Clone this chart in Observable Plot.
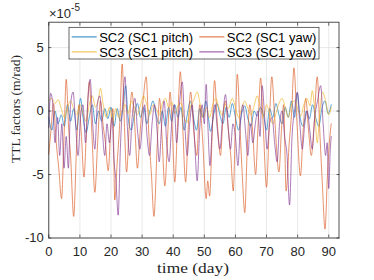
<!DOCTYPE html>
<html>
<head>
<meta charset="utf-8">
<script src="https://cdn.jsdelivr.net/npm/d3@7"></script>
<script src="https://cdn.jsdelivr.net/npm/@observablehq/plot@0.6"></script>
<style>
  html, body { margin: 0; padding: 0; background: #fff; }
  #chart { width: 374px; height: 280px; }
</style>
</head>
<body>
<div id="chart"></div>
<script>
// values in units of 1e-5 m/rad, [day, value]
const sc2Pitch = [[0,-0.5],[1.0,-1.5],[2.0,0],[3.0,-1],[4.0,-0.3],[5.0,-1.2],[6.0,0.5],[7.0,-0.8],[8.0,0.2],[9.0,-1.5],[10.2,1.0],[11.0,-0.5],[12.0,-1.7],[13.0,-0.5],[14.0,0.5],[15.0,-1],[16.0,0],[17.0,-0.8],[18.0,0.2],[19.0,-0.6],[20.0,0.3],[21.0,-1.2],[22.0,0.2],[23.0,-0.8],[24.0,0.5],[24.7,2.0],[25.5,-0.5],[26.5,-1.5],[27.5,-0.3],[28.5,0.6],[29.5,-0.5],[30.5,0.3],[31.5,-1],[32.5,0],[33.5,0.8],[34.5,-0.3],[35.5,-1.0],[36.5,0],[37.5,-1.2],[38.5,0.3],[39.5,-0.8],[40.5,0.5],[41.5,-0.5],[42.5,0.3],[43.5,-1.5],[44.5,-0.3],[45.5,0.8],[46.5,-0.5],[47.5,-1.5],[48.5,0.2],[49.5,-0.5],[50.5,0.8],[51.3,-0.5],[52.0,-1.6],[53.0,-0.3],[54.0,0.6],[55.0,-0.3],[56.0,-1],[57.0,0.3],[58.0,-0.5],[59.0,0.6],[60.0,-0.5],[61.0,-1.5],[62.0,-0.2],[63.0,0.4],[64.0,-0.6],[65.0,-1.2],[66.0,0],[67.0,-0.4],[68.0,0.3],[69.0,-0.3],[70.0,-1.5],[71.0,0.2],[72.0,-0.5],[73.0,0.6],[74.0,-0.3],[75.0,-1.0],[76.0,0.3],[77.0,-0.5],[78.0,0.8],[79.0,-0.5],[79.9,1.4],[80.8,-0.5],[81.8,-1.2],[82.8,0],[83.8,-0.6],[84.8,0.5],[85.8,-0.5],[86.8,-1.2],[87.8,0.2],[88.8,0.8],[89.8,-0.2],[90.8,0.5]];

const sc2Yaw = [[0,-3.4],[0.7,-1.5],[1.5,0.6],[2.4,-2.5],[3.2,-4.5],[4.1,-6.9],[4.9,-2],[5.6,2.5],[6.4,-1.5],[7.0,-3.5],[8.0,-8.3],[8.9,-3],[9.7,0.5],[10.5,-2],[11.3,-5.2],[12.2,-1],[13.0,2.3],[13.9,-2],[14.8,-6.4],[15.7,-2.5],[16.6,0.8],[17.5,-1.2],[18.2,-2.5],[19.1,-4.7],[20.0,-1],[20.6,0.2],[21.2,-7.0],[22.0,-4],[22.8,-1],[23.6,3.7],[24.3,-1],[25.0,-4.8],[25.9,-1],[26.7,1.5],[27.6,-1],[28.5,-4.5],[29.4,-1.5],[30.2,0.5],[31.3,2.7],[32.2,-2],[33.0,-5],[33.8,-8.3],[34.8,-3],[35.6,1.0],[36.4,-2],[37.3,-5.9],[38.2,-2],[39.0,1.5],[39.8,-2],[40.5,-5.6],[41.4,-1],[42.3,3.1],[43.1,-1.5],[44.0,-5.6],[44.8,-1.5],[45.6,1.5],[46.6,-1.5],[47.6,-3.5],[48.5,0.5],[49.4,-2],[50.6,-6.9],[51.1,-5.5],[51.7,-6.7],[52.5,-2],[53.3,2.4],[54.2,-1],[55.2,-3.5],[56.0,-0.5],[56.8,0.8],[57.7,-1.5],[58.5,-3.5],[59.3,-6.3],[60.0,-1],[60.6,2.9],[61.5,-1.5],[62.2,-5],[63.0,-8.0],[63.8,-3],[64.6,0.5],[65.5,-1.5],[66.5,-5.0],[67.3,-1],[68.1,2.6],[69.0,-1.5],[70.0,-6.0],[70.9,-1],[71.7,2.7],[72.6,-0.5],[74.0,-4.8],[74.8,-1.5],[75.5,0.5],[76.3,-6.3],[77.3,-2.5],[78.1,0],[78.8,3.4],[79.8,-1],[80.9,-5.1],[81.8,-1.5],[82.6,1.0],[83.5,-1.5],[84.4,-3.5],[85.3,-1],[86.3,2.7],[87.2,-2],[88.0,-6],[88.8,-9.3],[89.6,-5],[90.2,-2.5],[90.8,-1.0]];

const sc3Pitch = [[0,0.8],[1.0,1.0],[2.0,0.6],[3.0,0.9],[4.0,0.2],[5.0,-0.5],[6.0,0.3],[7.0,0.8],[8.0,0.2],[9.0,-0.3],[10.0,0.5],[11.0,-0.2],[12.0,-0.8],[13.0,0.5],[14.0,1.2],[15.0,0.3],[16.0,1.0],[16.6,1.8],[17.5,0.5],[18.5,-0.5],[19.5,0.3],[20.5,-0.8],[21.5,0.2],[22.5,-0.5],[23.5,0],[24.5,0.5],[25.5,-0.2],[26.5,0.8],[27.5,0.3],[28.5,-0.3],[29.5,0.5],[30.5,1.2],[31.5,0.5],[32.5,-0.3],[33.5,0.5],[34.5,0.2],[35.5,-0.3],[36.5,0.6],[37.5,1.0],[38.5,0.3],[39.5,0.7],[40.5,-0.2],[41.5,0.4],[42.5,0.6],[43.5,-0.5],[44.5,-0.9],[45.5,0.3],[46.5,0.8],[47.7,1.5],[48.7,0.5],[49.7,-0.5],[50.7,0.3],[51.7,-0.5],[52.7,0.5],[53.7,1.0],[54.7,0.3],[55.7,-0.3],[56.7,0.5],[57.7,0.2],[59.0,1.0],[60.0,0.3],[61.0,-0.5],[62.0,0.2],[63.0,0.8],[64.0,0.2],[65.0,-0.3],[66.0,0.4],[67.0,1.2],[68.0,0.3],[69.0,-0.5],[70.0,0.5],[71.0,-0.2],[72.0,-1.0],[73.0,-0.2],[74.0,0.6],[75.0,1.0],[76.0,0.3],[77.0,-0.5],[78.0,0.5],[79.0,0.8],[80.0,0.2],[81.0,-0.4],[82.0,0.5],[83.0,1.0],[84.0,0.4],[84.7,1.6],[85.5,0],[86.3,-2.5],[87.0,-0.5],[88.0,1.5],[89.0,0.8],[90.0,-0.3],[90.8,0.3]];

const sc3Yaw = [[0,-1.3],[0.6,1.4],[1.3,0.5],[2.0,-2.5],[2.8,-0.5],[3.5,-3.5],[4.2,-1],[4.9,-4.5],[5.6,-2],[6.3,-4.5],[7.0,0.5],[7.8,1.5],[8.6,-1],[9.4,-3.5],[10.2,-0.5],[11.0,0.5],[11.8,-2.5],[12.6,1.0],[13.3,2.5],[14.1,-1],[14.8,-3],[15.6,0.5],[16.4,1.2],[17.2,-1.5],[18.0,-3.5],[18.7,-1],[19.5,-2.5],[20.3,-0.5],[21.0,-4],[21.6,-5.5],[22.3,-8.2],[23.0,-3],[23.7,0.5],[24.5,2.7],[25.2,-1],[26.0,-3.5],[26.8,-0.5],[27.7,1.0],[28.5,-1.5],[29.3,-3],[30.1,-1],[30.8,0.5],[31.6,-2],[32.4,-3.5],[33.2,-1],[34.0,0.5],[34.8,-1.5],[35.5,-4],[36.3,-1],[37.1,0.8],[37.9,-2.5],[38.7,-4],[39.5,-1],[40.3,0.5],[41.1,-2.5],[42.0,0.5],[42.9,2.3],[43.7,-1],[44.5,-3.5],[45.3,-1],[46.1,0.5],[46.9,-2.5],[47.7,-5.5],[48.5,-1.5],[49.3,0.5],[50.0,-1],[50.6,2.1],[51.2,-1.5],[51.8,-4.3],[52.6,-1],[53.4,0.5],[54.2,-1.5],[55.0,-3],[55.9,-0.5],[56.8,1.3],[57.6,-1],[58.4,-3],[59.2,-1],[60.0,-2],[60.8,-4.3],[61.6,-1],[62.4,0.5],[63.2,-1.5],[64.0,-3.5],[64.8,-1],[65.6,-2.5],[66.4,-1],[67.2,0],[67.9,-2],[68.6,2.0],[69.4,-0.5],[70.2,-3],[71.0,-1],[71.8,-0.5],[72.6,-2.5],[73.4,-4],[74.2,-1],[75.0,0],[75.8,-2],[76.6,-3.5],[77.4,-7.4],[78.2,-2],[79.0,0],[79.9,1.5],[80.7,-1],[81.5,-3],[82.3,-1],[83.1,0],[83.9,-1.5],[84.7,-3],[85.5,-0.5],[86.4,0.8],[87.4,2.0],[88.2,-1],[89.0,-3.5],[89.5,-2.5],[90.0,-6.1],[90.5,-3],[90.8,-2]];

const seriesNames = ["SC2 (SC1 pitch)", "SC2 (SC1 yaw)", "SC3 (SC1 pitch)", "SC3 (SC1 yaw)"];
const seriesColors = ["#0072BD", "#D95319", "#EDB120", "#7E2F8E"];
const seriesData = [sc2Pitch, sc2Yaw, sc3Pitch, sc3Yaw];

const xTicks = [0, 10, 20, 30, 40, 50, 60, 70, 80, 90];
const yTicks = [-10, -5, 0, 5];
const xDomain = [0, 93.3];
const yDomain = [-10, 7];

const axisColor = "#262626";
const font = "'Liberation Sans', Arial, Helvetica, sans-serif";
const serif = "'Liberation Serif', 'DejaVu Serif', 'Times New Roman', serif";

const lineMarks = seriesData.map((d, i) =>
  Plot.line(d, {x: p => p[0], y: p => p[1], stroke: seriesColors[i], strokeWidth: 0.8, strokeOpacity: 0.8, curve: "monotone-x"})
);

const chart = Plot.plot({
  width: 374,
  height: 280,
  marginLeft: 48.3,
  marginRight: 35.5,
  marginTop: 21.7,
  marginBottom: 42.5,
  style: {fontFamily: font, fontSize: "13px", background: "white", color: axisColor, overflow: "visible"},
  x: {domain: xDomain},
  y: {domain: yDomain},
  marks: [
    Plot.gridX(xTicks, {stroke: "#dfdfdf", strokeOpacity: 1, strokeWidth: 0.7}),
    Plot.gridY(yTicks, {stroke: "#dfdfdf", strokeOpacity: 1, strokeWidth: 0.7}),
    ...lineMarks,
    Plot.axisX(xTicks, {anchor: "bottom", tickSize: 0, tickPadding: 9, tickFormat: d => String(d), label: null, fill: axisColor, fontSize: 13}),
    Plot.axisX(xTicks, {anchor: "bottom", tickSize: -3, text: null, label: null, stroke: axisColor, strokeWidth: 0.7}),
    Plot.axisX(xTicks, {anchor: "top", tickSize: -3, text: null, label: null, stroke: axisColor, strokeWidth: 0.7}),
    Plot.axisY(yTicks, {anchor: "left", tickSize: 0, tickPadding: 5, tickFormat: d => String(d), label: null, fill: axisColor, fontSize: 13}),
    Plot.axisY(yTicks, {anchor: "left", tickSize: -3, text: null, label: null, stroke: axisColor, strokeWidth: 0.7}),
    Plot.axisY(yTicks, {anchor: "right", tickSize: -3, text: null, label: null, stroke: axisColor, strokeWidth: 0.7}),
    Plot.frame({stroke: axisColor, strokeWidth: 0.8})
  ]
});

document.getElementById("chart").appendChild(chart);

const svg = d3.select(chart);

// exponent label
const exp = svg.append("text").attr("x", 49).attr("y", 18.3).attr("fill", axisColor)
  .attr("text-anchor", "start").attr("font-family", font).attr("font-size", 13);
exp.append("tspan").text("×10");
exp.append("tspan").attr("font-size", 10).attr("dy", -7).text("-5");

// axis labels
svg.append("text").attr("x", 193).attr("y", 273).attr("text-anchor", "middle")
  .attr("font-family", serif).attr("font-size", 15.5).attr("fill", axisColor)
  .attr("textLength", 72).attr("lengthAdjust", "spacingAndGlyphs")
  .text("time (day)");
svg.append("text").attr("transform", "translate(19.5,109) rotate(-90)").attr("text-anchor", "middle")
  .attr("font-family", serif).attr("font-size", 13).attr("fill", axisColor)
  .attr("textLength", 108).attr("lengthAdjust", "spacingAndGlyphs")
  .text("TTL factors (m/rad)");

// legend
const lg = svg.append("g");
lg.append("rect").attr("x", 69).attr("y", 27.3).attr("width", 250).attr("height", 31.7)
  .attr("fill", "white").attr("stroke", axisColor).attr("stroke-width", 0.7);
const colX = [71.7, 199.3];
const rowY = [36.9, 51.9];
seriesNames.forEach((name, i) => {
  const cx = colX[i % 2], cy = rowY[Math.floor(i / 2)];
  lg.append("line").attr("x1", cx).attr("x2", cx + 25).attr("y1", cy).attr("y2", cy)
    .attr("stroke", seriesColors[i]).attr("stroke-width", 0.9);
  lg.append("text").attr("x", cx + 27.5).attr("y", cy + 4.6).attr("text-anchor", "start")
    .attr("font-family", font).attr("font-size", 13).attr("fill", "#000").text(name);
});
</script>
</body>
</html>
